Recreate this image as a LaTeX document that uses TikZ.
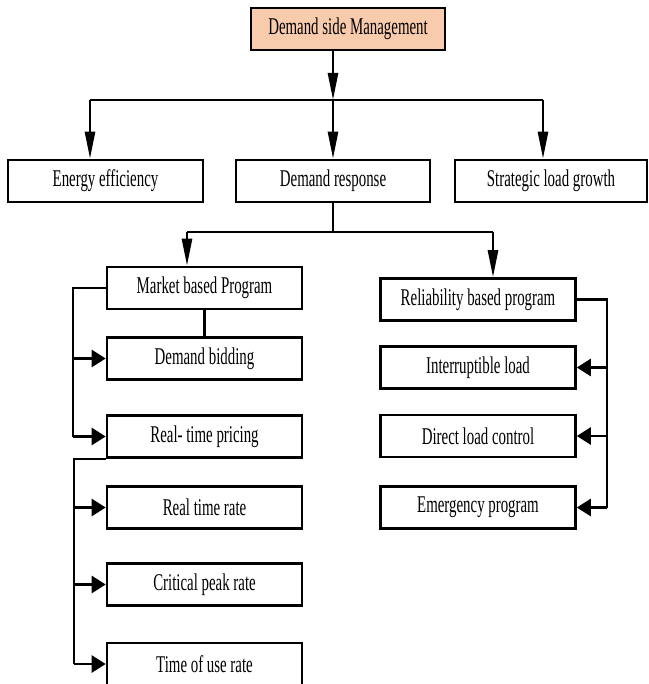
\documentclass[tikz,border=0pt]{standalone}
\usepackage{fontspec}
\setmainfont{Liberation Serif}[FakeStretch=0.62]
\usetikzlibrary{arrows.meta}
\usetikzlibrary{calc}
\definecolor{dsmfill}{HTML}{F8CBAD}

\begin{document}
\begin{tikzpicture}[x=1pt,y=-1pt,
  box/.style={draw,line width=2.6pt,minimum width=195pt,minimum height=42pt,inner sep=0pt,font=\fontsize{24}{26}\selectfont},
  conn/.style={line width=2.6pt},
  down/.style={conn,-{Triangle[length=27pt,width=10pt]}},
  side/.style={conn,-{Triangle[length=14pt,width=17pt]}}]

\useasboundingbox (0,0) rectangle (648,684);

%DSM
\node[box,fill=dsmfill,minimum width=194pt] (dsm) at (348,29) {Demand side Management};

%level 1
\node[box] (ee) at (105.5,181) {Energy efficiency};
\node[box,minimum width=194pt] (dr) at (333,181) {Demand response};
\node[box,minimum width=192pt] (slg) at (551,181) {Strategic load growth};

%market based
\node[box] (mbp) at (204.5,288) {Market based Program};
\node[box] (db) at (204.5,358.5) {Demand bidding};
\node[box] (rtp) at (204.5,436.5) {Real- time pricing};
\node[box] (rtr) at (204.5,507.5) {Real time rate};
\node[box] (cpr) at (204.5,584.5) {Critical peak rate};
\node[box] (tou) at (204.5,664) {Time of use rate};

%reliability based
\node[box] (rbp) at (478,299.5) {Reliability based program};
\node[box] (il) at (478,367.5) {Interruptible load};
\node[box] (dlc) at (478,436) {Direct load control};
\node[box] (ep) at (478,507.5) {Emergency program};

%bus 1
\coordinate (b1) at (333,100);
\coordinate (b1l) at (90,100);
\coordinate (b1r) at (543,100);
\draw[down] (dsm.south -| b1) -- (b1);
\draw[conn] (b1l) -- (b1r);
\draw[down] (b1l) -- (b1l |- ee.north);
\draw[down] (b1) -- (dr.north);
\draw[down] (b1r) -- (b1r |- slg.north);

%bus 2
\coordinate (b2) at (333,232);
\coordinate (b2l) at (187,232);
\coordinate (b2r) at (493,232);
\draw[conn] (dr.south) -- (b2);
\draw[conn] (b2l) -- (b2r);
\draw[down] (b2l) -- (b2l |- mbp.north);
\draw[down] (b2r) -- (b2r |- rbp.north);

%left bus
\coordinate (l1) at (73,0);
\draw[conn] (mbp.south) -- (db.north);
\draw[conn] (mbp.west) -- (mbp.west -| l1) -- (l1 |- rtp.west);
\draw[side] (l1 |- db.west) -- (db.west);
\draw[side] (l1 |- rtp.west) -- (rtp.west);

%pricing bus
\coordinate (l2) at (74,0);
\draw[conn] (rtp.south west) -- (rtp.south west -| l2) -- (l2 |- tou.west);
\draw[side] (l2 |- rtr.west) -- (rtr.west);
\draw[side] (l2 |- cpr.west) -- (cpr.west);
\draw[side] (l2 |- tou.west) -- (tou.west);

%right bus
\coordinate (r1) at (607,0);
\draw[conn] (rbp.east) -- (rbp.east -| r1) -- (r1 |- ep.east);
\draw[side] (r1 |- il.east) -- (il.east);
\draw[side] (r1 |- dlc.east) -- (dlc.east);
\draw[side] (r1 |- ep.east) -- (ep.east);

\end{tikzpicture}
\end{document}
